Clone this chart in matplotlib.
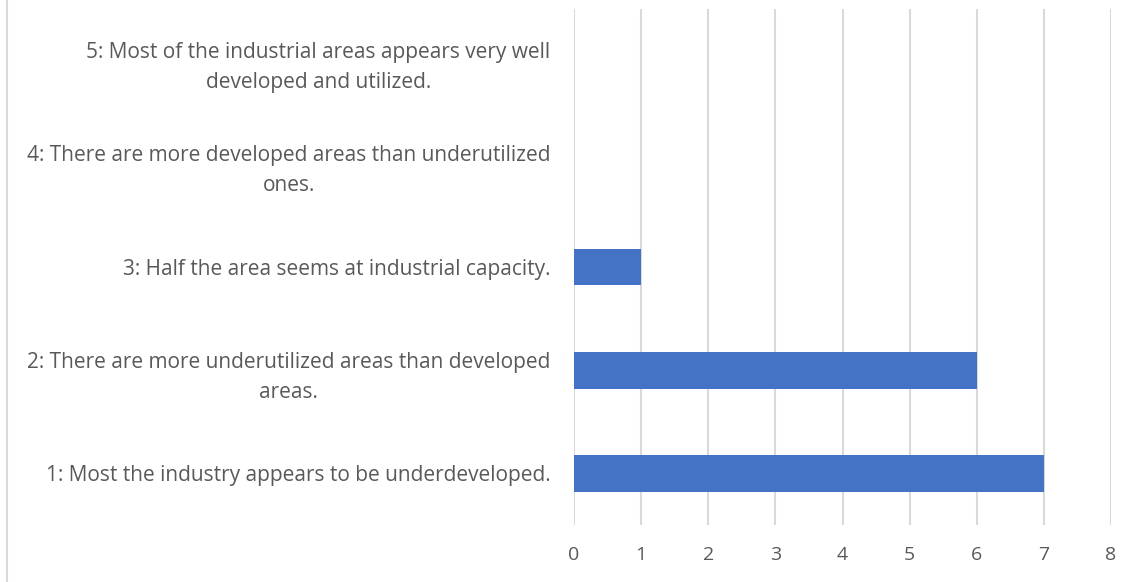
import matplotlib.pyplot as plt
from matplotlib.lines import Line2D

# data
categories = [
    "1: Most the industry appears to be underdeveloped.",
    "2: There are more underutilized areas than developed\nareas.",
    "3: Half the area seems at industrial capacity.",
    "4: There are more developed areas than underutilized\nones.",
    "5: Most of the industrial areas appears very well\ndeveloped and utilized.",
]
counts = [7, 6, 1, 0, 0]
x_ticks = [0, 1, 2, 3, 4, 5, 6, 7, 8]

text_col = "#595959"
grid_col = "#D9D9D9"
bar_col = "#4472C4"

plt.rcParams['font.family'] = ['Open Sans', 'DejaVu Sans']

fig = plt.figure(figsize=(11.35, 5.82), dpi=100)
ax = fig.add_axes([574 / 1135, 1 - 525 / 582, (1111 - 574) / 1135, (525 - 9) / 582])

ypos = list(range(len(categories)))
ax.barh(ypos, counts, height=0.355, color=bar_col, zorder=3)

ax.set_xlim(0, 8)
ax.set_ylim(-0.5, 4.5)
ax.set_xticks(x_ticks)
ax.set_yticks(ypos)
ax.set_yticklabels(categories, multialignment='center', linespacing=1.55)
ax.tick_params(axis='y', length=0, pad=17, labelsize=15, labelcolor=text_col)
ax.tick_params(axis='x', length=0, pad=15, labelsize=14, labelcolor=text_col)
ax.grid(axis='x', color=grid_col, linewidth=1.5, zorder=0)
for s in ax.spines.values():
    s.set_visible(False)

# chart border at left edge
fig.add_artist(Line2D([7 / 1135, 7 / 1135], [0, 1], color=grid_col, linewidth=1.5,
                      transform=fig.transFigure))

fig.savefig("out.png", dpi=100)
